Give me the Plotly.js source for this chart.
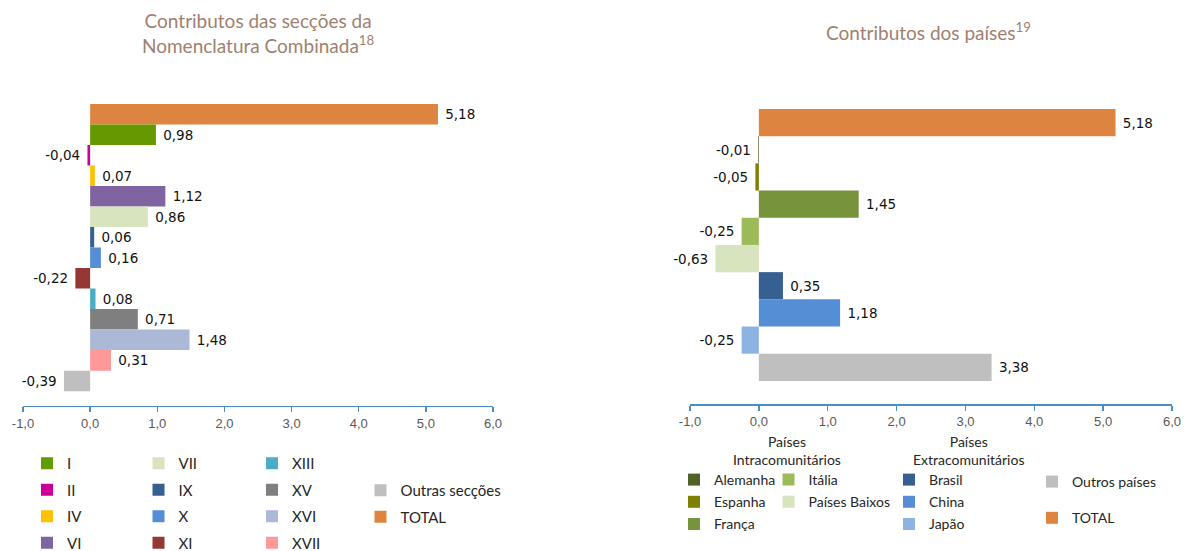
<!DOCTYPE html>
<html><head><meta charset="utf-8">
<script src="https://cdn.plot.ly/plotly-3.0.1.min.js"></script>
<style>html,body{margin:0;padding:0;background:#fff}#chart{width:1192px;height:551px}</style>
</head><body><div id="chart"></div>
<script>
// ---- Left chart: Contributos das secções da Nomenclatura Combinada ----
const secCategories = ['TOTAL','I','II','IV','VI','VII','IX','X','XI','XIII','XV','XVI','XVII','Outras secções'];
const secValues = [5.18, 0.98, -0.04, 0.07, 1.12, 0.86, 0.06, 0.16, -0.22, 0.08, 0.71, 1.48, 0.31, -0.39];

// ---- Right chart: Contributos dos países ----
const paisCategories = ['TOTAL','Alemanha','Espanha','França','Itália','Países Baixos','Brasil','China','Japão','Outros países'];
const paisValues = [5.18, -0.01, -0.05, 1.45, -0.25, -0.63, 0.35, 1.18, -0.25, 3.38];

const xTicks = [-1, 0, 1, 2, 3, 4, 5, 6];
const xTickLabels = ['-1,0', '0,0', '1,0', '2,0', '3,0', '4,0', '5,0', '6,0'];

// styles
const secColors = ['#dd8441','#669900','#cc0099','#ffc000','#8064a2','#d7e4bd','#376092','#558ed5','#953735','#4bacc6','#7f7f7f','#abb9d6','#ff9999','#bfbfbf'];
const secLegendOf = {'I':'legend','II':'legend','IV':'legend','VI':'legend','VII':'legend2','IX':'legend2','X':'legend2','XI':'legend2','XIII':'legend3','XV':'legend3','XVI':'legend3','XVII':'legend3','Outras secções':'legend4','TOTAL':'legend4'};
const paisColors = ['#dd8441','#4f6228','#808000','#77933c','#9bbb59','#d7e4bd','#376092','#558ed5','#8db3e2','#bfbfbf'];
const paisLegendOf = {'Alemanha':'legend5','Espanha':'legend5','França':'legend5','Itália':'legend6','Países Baixos':'legend6','Brasil':'legend7','China':'legend7','Japão':'legend7','Outros países':'legend8','TOTAL':'legend8'};

const W = 1192, H = 551;
const px = v => v / W;
const py = v => (H - v) / H;

const NB = '\u00a0';
const labelFont = {family: 'DejaVu Sans', size: 13.5, color: '#111'};
const traces = [];
function addBars(cats, vals, colors, legendOf, prefix, xa, ya) {
  cats.forEach((c, i) => {
    const v = vals[i];
    traces.push({
      type: 'bar', orientation: 'h', x: [v], y: [c], name: c,
      xaxis: xa, yaxis: ya, width: 1,
      marker: {color: colors[i], line: {width: 0}},
      texttemplate: v < 0 ? '%{x:.2f}' + NB : NB + '%{x:.2f}',
      textposition: 'outside', cliponaxis: false, constraintext: 'none',
      textfont: labelFont,
      legend: legendOf[c], legendgroup: prefix + i, legendrank: c === 'TOTAL' ? 100 : i,
      hoverinfo: 'x+y'
    });
  });
}
addBars(secCategories, secValues, secColors, secLegendOf, 's', 'x', 'y');
addBars(paisCategories, paisValues, paisColors, paisLegendOf, 'p', 'x2', 'y2');

const axisColor = '#4a8fc4';
const xCommon = {
  range: [-1, 6], tickvals: xTicks, ticktext: xTickLabels, showgrid: false, zeroline: false,
  showline: true, linecolor: axisColor, linewidth: 1.5, ticks: 'outside', ticklen: 5, tickcolor: axisColor, tickwidth: 1.5,
  tickfont: {family: 'Liberation Sans', size: 13, color: '#595959'}, fixedrange: true
};
const yCommon = {type: 'category', showgrid: false, zeroline: false, showline: false, showticklabels: false, ticks: '', fixedrange: true};

const legCommon = (x, y, gap, size) => ({
  x: px(x), y: py(y), xanchor: 'left', yanchor: 'top', orientation: 'v',
  traceorder: 'grouped', tracegroupgap: gap, bgcolor: 'rgba(0,0,0,0)', borderwidth: 0,
  font: {family: 'Lato', size: size, color: '#262626'}
});

const layout = {
  width: W, height: H, margin: {l: 0, r: 0, t: 0, b: 0, autoexpand: false},
  paper_bgcolor: '#fff', plot_bgcolor: '#fff',
  separators: ',.', barmode: 'overlay', showlegend: true,
  xaxis: Object.assign({}, xCommon, {domain: [px(23), px(493)], anchor: 'y'}),
  yaxis: Object.assign({}, yCommon, {domain: [py(405.5), py(104)], anchor: 'x', categoryarray: secCategories, categoryorder: 'array', range: [14.2, -0.5]}),
  xaxis2: Object.assign({}, xCommon, {domain: [px(690), px(1172)], anchor: 'y2'}),
  yaxis2: Object.assign({}, yCommon, {domain: [py(404), py(109)], anchor: 'x2', categoryarray: paisCategories, categoryorder: 'array', range: [10.35, -0.5]}),
  legend: legCommon(27, 447, 4, 15),
  legend2: legCommon(138.5, 447, 4, 15),
  legend3: legCommon(252, 447, 4, 15),
  legend4: legCommon(360.5, 474, 4, 15),
  legend5: legCommon(674, 464, 1, 14),
  legend6: legCommon(768.5, 464, 1, 14),
  legend7: legCommon(889, 464, 1, 14),
  legend8: legCommon(1032, 466, 15, 14),
  annotations: [
    {text: 'Contributos das secções da<br>Nomenclatura Combinada<sup>18</sup>', x: px(258), y: py(33), xref: 'paper', yref: 'paper',
     showarrow: false, xanchor: 'center', yanchor: 'middle', font: {family: 'Lato', size: 19, color: '#a07f6f'}},
    {text: 'Contributos dos países<sup>19</sup>', x: px(928), y: py(32), xref: 'paper', yref: 'paper',
     showarrow: false, xanchor: 'center', yanchor: 'middle', font: {family: 'Lato', size: 19, color: '#a07f6f'}},
    {text: 'Países<br>Intracomunitários', x: px(787), y: py(450), xref: 'paper', yref: 'paper',
     showarrow: false, xanchor: 'center', yanchor: 'middle', font: {family: 'Lato', size: 14, color: '#262626'}},
    {text: 'Países<br>Extracomunitários', x: px(968), y: py(450), xref: 'paper', yref: 'paper',
     showarrow: false, xanchor: 'center', yanchor: 'middle', font: {family: 'Lato', size: 14, color: '#262626'}}
  ]
};

Plotly.newPlot('chart', traces, layout, {displayModeBar: false, staticPlot: true});
</script>
</body></html>
